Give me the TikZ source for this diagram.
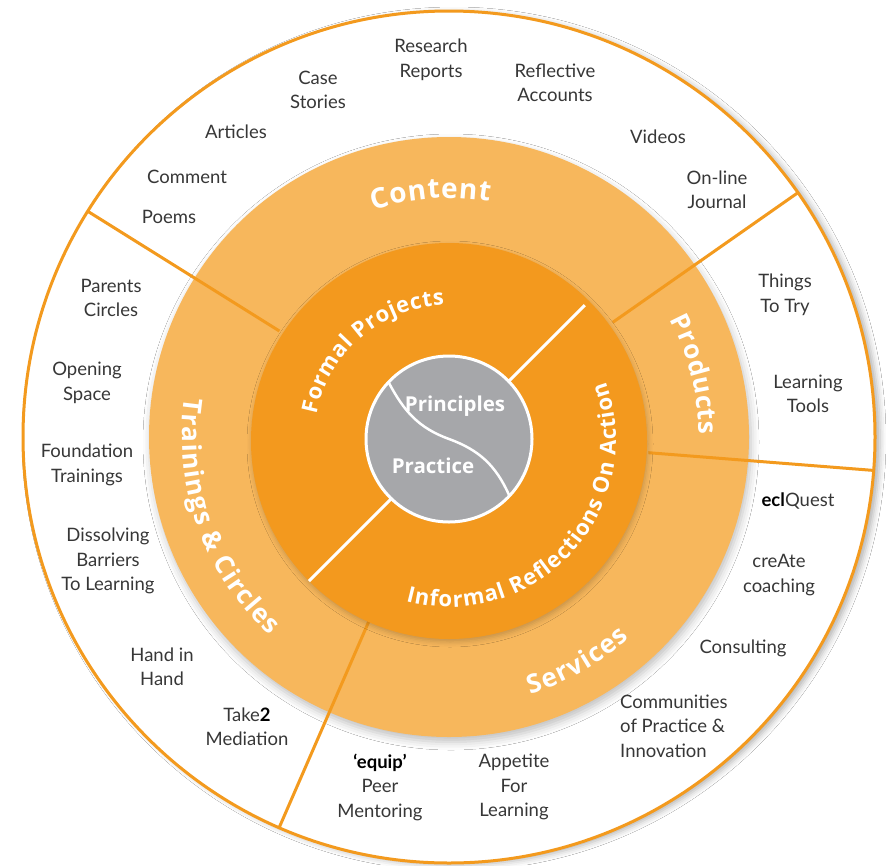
\documentclass[tikz,border=0pt]{standalone}
\usepackage{fontspec}
\setmainfont{Lato}
\newfontfamily\headfont{Open Sans}
\usetikzlibrary{decorations.text,shadows.blur}
\definecolor{ringline}{RGB}{243,154,30}
\definecolor{lightring}{RGB}{247,183,92}
\definecolor{darkcore}{RGB}{243,153,30}
\definecolor{graycore}{RGB}{166,167,170}
\definecolor{labeltext}{RGB}{55,55,55}
\newcommand\arcfont{\headfont\bfseries\fontsize{26}{26}\selectfont}
\newcommand\bigarcfont{\headfont\bfseries\fontsize{28}{28}\selectfont}
\newcommand\corefont{\headfont\bfseries\fontsize{22}{22}\selectfont}
\newcommand\pfont{\headfont\bfseries\fontsize{20.5}{20.5}\selectfont}
\begin{document}
\begin{tikzpicture}[x=1pt,y=1pt,
  lbl/.style={font=\fontsize{18.5}{24.5}\selectfont, text=labeltext, align=center, inner sep=0pt},
  divider/.style={ringline, line width=3pt},
  arctext/.style={decorate, decoration={text along path, text align=fit to path, text color=white, text={#1}}}]
\useasboundingbox (0,0) rectangle (886,-865);
\fill[white] (0,0) rectangle (886,-865);
\coordinate (C) at (449,-437);
\coordinate (D) at (449,-441);
\coordinate (G) at (449,-439);
\coordinate (T) at (449,-440);
% outer white disc with shadow
\fill[white, blur shadow={shadow xshift=5pt, shadow yshift=-2pt, shadow blur radius=6pt, shadow opacity=30}] (C) circle[radius=426pt];
% light ring
\fill[lightring, blur shadow={shadow xshift=2pt, shadow yshift=-5pt, shadow blur radius=8pt, shadow opacity=25}] (C) circle[radius=300pt];
% dividers
\draw[divider] ([shift={(C)}]148:200pt) -- ([shift={(C)}]148:426pt);
\draw[divider] ([shift={(C)}]35:200pt) -- ([shift={(C)}]35:426pt);
\draw[divider] ([shift={(C)}]-4.5:200pt) -- ([shift={(C)}]-4.5:426pt);
\draw[divider] ([shift={(C)}]246.5:200pt) -- ([shift={(C)}]246.5:426pt);
% outer ring line
\draw[ringline, line width=3pt] (C) circle[radius=426pt];
% dark core
\fill[darkcore, blur shadow={shadow xshift=1pt, shadow yshift=-3pt, shadow blur radius=5pt, shadow opacity=20}] (D) circle[radius=198pt];
\draw[white, line width=3pt] ([shift={(D)}]45:192pt) -- ([shift={(D)}]225:198pt);
% gray centre
\fill[graycore, draw=white, line width=3pt] (G) circle[radius=83pt];
\draw[white, line width=2.5pt] ([shift={(G)}]137:82pt) to[out=-62, in=160] (G) to[out=-20, in=114] ([shift={(G)}]-43:82pt);
\node[font=\pfont, text=white] (principles) at (455,-406) {Principles};
\node[font=\pfont, text=white] (practice) at (433,-466) {Practice};
% curved ring labels
\path[arctext={|\bigarcfont|Content}] ([shift={(C)}]108.5:239pt) arc[start angle=108.5, end angle=80.2, radius=239pt];
\path[arctext={|\arcfont|Products}] ([shift={(C)}]28:250pt) arc[start angle=28, end angle=0.5, radius=250pt];
\path[arctext={|\arcfont|Services}] ([shift={(C)}]-72.5:270pt) arc[start angle=-72.5, end angle=-48, radius=270pt];
\path[arctext={|\arcfont|Trainings {\&} Circles}] ([shift={(C)}]171.5:267pt) arc[start angle=171.5, end angle=228, radius=267pt];
\path[arctext={|\corefont|Formal Projects}] ([shift={(T)}]169:135pt) arc[start angle=169, end angle=92, radius=135pt];
\path[arctext={|\corefont|Informal Reflections On Action}] ([shift={(T)}]255:167pt) arc[start angle=255, end angle=380.5, radius=167pt];
% outer labels
\node[lbl] (research) at (431,-60) {Research\\Reports};
\node[lbl] (case) at (318,-90) {Case\\Stories};
\node[lbl] (reflective) at (555,-83) {Reflective\\Accounts};
\node[lbl] (articles) at (236,-132) {Articles};
\node[lbl] (videos) at (658,-137) {Videos};
\node[lbl] (comment) at (187,-177) {Comment};
\node[lbl] (online) at (717,-190) {On-line\\Journal};
\node[lbl] (poems) at (169,-217) {Poems};
\node[lbl] (parents) at (111,-298) {Parents\\Circles};
\node[lbl] (opening) at (87,-383) {Opening\\Space};
\node[lbl] (foundation) at (87,-465) {Foundation\\Trainings};
\node[lbl] (dissolving) at (108,-561) {Dissolving\\Barriers\\To Learning};
\node[lbl] (hand) at (162,-667) {Hand in\\Hand};
\node[lbl] (take) at (247,-727) {Take\textbf{\textcolor{black}{2}}\\Mediation};
\node[lbl] (equip) at (380,-787) {\textbf{\textcolor{black}{`equip'}}\\Peer\\Mentoring};
\node[lbl] (appetite) at (514,-787) {Appetite\\For\\Learning};
\node[lbl, align=left, anchor=west] (communities) at (620,-726) {Communities\\of Practice \&\\Innovation};
\node[lbl] (consulting) at (743,-648) {Consulting};
\node[lbl] (create) at (779,-575) {creAte\\coaching};
\node[lbl] (eclquest) at (798,-501) {\textbf{\textcolor{black}{ecl}}Quest};
\node[lbl] (things) at (785,-295) {Things\\To Try};
\node[lbl] (learning) at (808,-394) {Learning\\Tools};
\end{tikzpicture}
\end{document}
